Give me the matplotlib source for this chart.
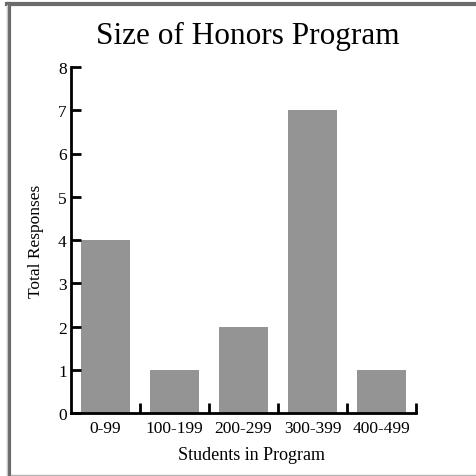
import matplotlib.pyplot as plt
from matplotlib.lines import Line2D
import numpy as np

plt.rcParams['font.family'] = ['Liberation Serif', 'DejaVu Serif']

# datos
categorias = ['0-99', '100-199', '200-299', '300-399', '400-499']
respuestas = [4, 1, 2, 7, 1]
yticks = [0, 1, 2, 3, 4, 5, 6, 7, 8]

W, H = 476, 477
fig = plt.figure(figsize=(W/100, H/100), dpi=100)
ax = fig.add_axes([71/W, 1-414/H, (416-71)/W, (414-68)/H])

x = np.arange(len(categorias))
ax.bar(x, respuestas, width=0.72, color='#949494')

ax.set_xlim(-0.5, len(categorias)-0.5)
ax.set_ylim(0, 8)
ax.set_yticks(yticks)
ax.set_xticks(x)
ax.set_xticklabels(categorias, fontsize=12.5)
ax.set_xticks(np.arange(len(categorias)) + 0.5, minor=True)
ax.tick_params(axis='x', which='major', length=0, pad=5)
ax.tick_params(axis='x', which='minor', direction='in', length=7, width=2)
ax.tick_params(axis='y', direction='in', length=7, width=2, labelsize=12.5, pad=3)

for s in ['top', 'right']:
    ax.spines[s].set_visible(False)
for s in ['left', 'bottom']:
    ax.spines[s].set_linewidth(2)

ax.set_xlabel('Students in Program', fontsize=13)
ax.xaxis.set_label_coords((251-71)/(416-71), -(456-414)/(414-68))
ax.xaxis.label.set_va('center')
ax.set_ylabel('Total Responses', fontsize=12.5, labelpad=10)
fig.text(248/W, 1-36/H, 'Size of Honors Program', ha='center', va='center', fontsize=22.5)

# marco gris (solo arriba e izquierda, linea clara abajo)
fig.add_artist(Line2D([9/W, 9/W], [0, 1-5/H], transform=fig.transFigure, color='#6b6b6b', linewidth=3))
fig.add_artist(Line2D([7/W, 1], [1-5/H, 1-5/H], transform=fig.transFigure, color='#6b6b6b', linewidth=3))
fig.add_artist(Line2D([11/W, 1], [0.6/H, 0.6/H], transform=fig.transFigure, color='#b4b4b4', linewidth=1))
fig.add_artist(Line2D([6.5/W, 6.5/W], [0, 1-6/H], transform=fig.transFigure, color='#c8c8c8', linewidth=0.8))

fig.savefig('out.png', dpi=100)
